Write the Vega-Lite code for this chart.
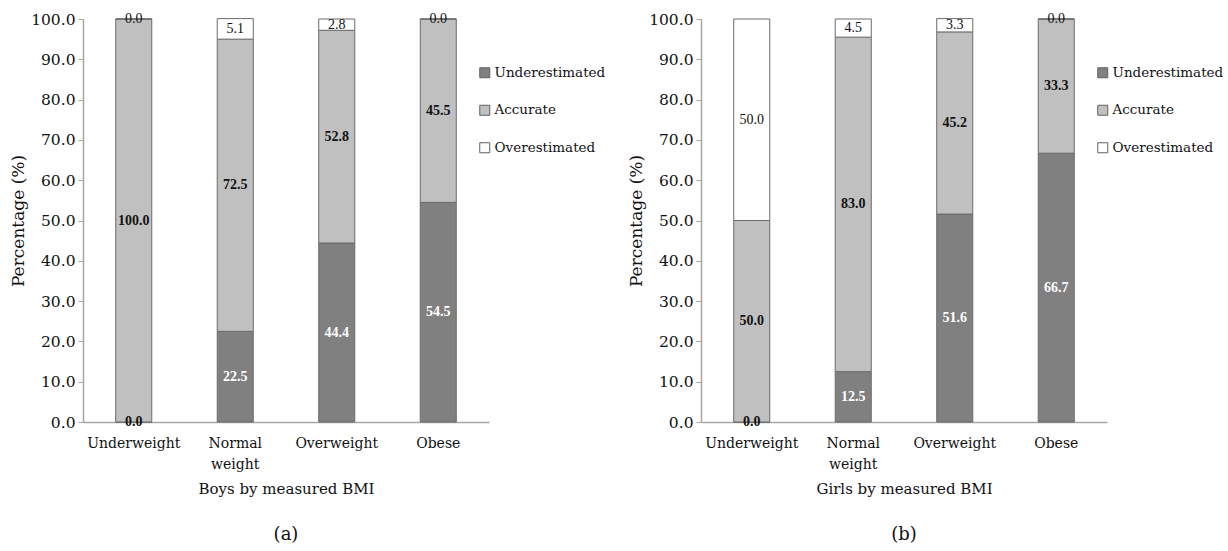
{
  "$schema": "https://vega.github.io/schema/vega-lite/v6.json",
  "background": "white",
  "padding": {"left": 9, "top": 12, "right": 5, "bottom": 5},
  "config": {
    "view": {"stroke": null},
    "font": "DejaVu Serif",
    "text": {"baseline": "middle"}
  },
  "datasets": {
    "boys": [
      {"bmi": "Underweight", "category": "Underestimated", "order": 1, "value": 0.0},
      {"bmi": "Underweight", "category": "Accurate", "order": 2, "value": 100.0},
      {"bmi": "Underweight", "category": "Overestimated", "order": 3, "value": 0.0},
      {"bmi": "Normal weight", "category": "Underestimated", "order": 1, "value": 22.5},
      {"bmi": "Normal weight", "category": "Accurate", "order": 2, "value": 72.5},
      {"bmi": "Normal weight", "category": "Overestimated", "order": 3, "value": 5.1},
      {"bmi": "Overweight", "category": "Underestimated", "order": 1, "value": 44.4},
      {"bmi": "Overweight", "category": "Accurate", "order": 2, "value": 52.8},
      {"bmi": "Overweight", "category": "Overestimated", "order": 3, "value": 2.8},
      {"bmi": "Obese", "category": "Underestimated", "order": 1, "value": 54.5},
      {"bmi": "Obese", "category": "Accurate", "order": 2, "value": 45.5},
      {"bmi": "Obese", "category": "Overestimated", "order": 3, "value": 0.0}
    ],
    "girls": [
      {"bmi": "Underweight", "category": "Underestimated", "order": 1, "value": 0.0},
      {"bmi": "Underweight", "category": "Accurate", "order": 2, "value": 50.0},
      {"bmi": "Underweight", "category": "Overestimated", "order": 3, "value": 50.0},
      {"bmi": "Normal weight", "category": "Underestimated", "order": 1, "value": 12.5},
      {"bmi": "Normal weight", "category": "Accurate", "order": 2, "value": 83.0},
      {"bmi": "Normal weight", "category": "Overestimated", "order": 3, "value": 4.5},
      {"bmi": "Overweight", "category": "Underestimated", "order": 1, "value": 51.6},
      {"bmi": "Overweight", "category": "Accurate", "order": 2, "value": 45.2},
      {"bmi": "Overweight", "category": "Overestimated", "order": 3, "value": 3.3},
      {"bmi": "Obese", "category": "Underestimated", "order": 1, "value": 66.7},
      {"bmi": "Obese", "category": "Accurate", "order": 2, "value": 33.3},
      {"bmi": "Obese", "category": "Overestimated", "order": 3, "value": 0.0}
    ]
  },
  "spacing": 212,
  "bounds": "flush",
  "resolve": {"scale": {"color": "independent"}, "legend": {"color": "independent"}},
  "hconcat": [
    {
      "width": 406,
      "height": 403,
      "data": {"name": "boys"},
      "title": {"text": "(a)", "orient": "bottom", "fontSize": 18, "fontWeight": "normal", "font": "DejaVu Serif", "color": "#111", "offset": 30},
      "transform": [{"stack": "value", "groupby": ["bmi"], "sort": [{"field": "order"}], "as": ["v0", "v1"]}],
      "encoding": {
        "x": {
          "field": "bmi", "type": "nominal",
          "sort": ["Underweight", "Normal weight", "Overweight", "Obese"],
          "scale": {"paddingInner": 0.645, "paddingOuter": 0.3225},
          "axis": {
            "title": "Boys by measured BMI", "titleFontSize": 15, "titleFontWeight": "normal", "titleColor": "#111", "titlePadding": 10,
            "labelAngle": 0, "labelFontSize": 14, "labelColor": "#111", "labelPadding": 14, "labelLineHeight": 21,
            "labelExpr": "split(datum.label, ' ')",
            "ticks": false, "domainColor": "#a6a6a6", "domainWidth": 1.5
          }
        }
      },
      "layer": [
        {
          "mark": {"type": "bar", "stroke": "#6b6b6b", "strokeWidth": 1},
          "encoding": {
            "y": {
              "field": "v0", "type": "quantitative",
              "scale": {"domain": [0, 100]},
              "axis": {
                "title": "Percentage (%)", "titleFontSize": 17, "titleFontWeight": "normal", "titleColor": "#111", "titlePadding": 3,
                "values": [0, 10, 20, 30, 40, 50, 60, 70, 80, 90, 100], "format": ".1f",
                "labelFontSize": 15.5, "labelColor": "#111", "labelPadding": 3,
                "tickSize": 5, "tickColor": "#a6a6a6", "domainColor": "#a6a6a6", "domainWidth": 1.5, "grid": false
              }
            },
            "y2": {"field": "v1"},
            "color": {
              "field": "category", "type": "nominal",
              "scale": {"domain": ["Underestimated", "Accurate", "Overestimated"], "range": ["#808080", "#c0c0c0", "#ffffff"]},
              "legend": {
                "title": null, "orient": "none", "legendX": 395, "legendY": 47,
                "symbolType": "square", "symbolSize": 100, "symbolStrokeColor": "#606060", "symbolStrokeWidth": 1,
                "labelFontSize": 13.5, "labelFont": "DejaVu Serif", "labelColor": "#111", "rowPadding": 22.5, "labelOffset": 3
              }
            }
          }
        },
        {
          "transform": [
            {"fold": ["v0", "v1"], "as": ["edge", "pos"]},
            {"aggregate": [{"op": "mean", "field": "pos", "as": "mid"}], "groupby": ["bmi", "category", "value"]},
            {"filter": "datum.category != 'Overestimated'"}
          ],
          "mark": {"type": "text", "font": "Liberation Serif", "fontSize": 14, "fontWeight": "bold"},
          "encoding": {
            "y": {"field": "mid", "type": "quantitative"},
            "text": {"field": "value", "type": "quantitative", "format": ".1f"},
            "color": {"condition": {"test": "datum.category == 'Underestimated' && datum.value > 0", "value": "#ffffff"}, "value": "#111111"}
          }
        },
        {
          "transform": [
            {"fold": ["v0", "v1"], "as": ["edge", "pos"]},
            {"aggregate": [{"op": "mean", "field": "pos", "as": "mid"}], "groupby": ["bmi", "category", "value"]},
            {"filter": "datum.category == 'Overestimated'"}
          ],
          "mark": {"type": "text", "font": "Liberation Serif", "fontSize": 14, "color": "#111111"},
          "encoding": {
            "y": {"field": "mid", "type": "quantitative"},
            "text": {"field": "value", "type": "quantitative", "format": ".1f"}
          }
        }
      ]
    },
    {
      "width": 406,
      "height": 403,
      "data": {"name": "girls"},
      "title": {"text": "(b)", "orient": "bottom", "fontSize": 18, "fontWeight": "normal", "font": "DejaVu Serif", "color": "#111", "offset": 30},
      "transform": [{"stack": "value", "groupby": ["bmi"], "sort": [{"field": "order"}], "as": ["v0", "v1"]}],
      "encoding": {
        "x": {
          "field": "bmi", "type": "nominal",
          "sort": ["Underweight", "Normal weight", "Overweight", "Obese"],
          "scale": {"paddingInner": 0.645, "paddingOuter": 0.3225},
          "axis": {
            "title": "Girls by measured BMI", "titleFontSize": 15, "titleFontWeight": "normal", "titleColor": "#111", "titlePadding": 10,
            "labelAngle": 0, "labelFontSize": 14, "labelColor": "#111", "labelPadding": 14, "labelLineHeight": 21,
            "labelExpr": "split(datum.label, ' ')",
            "ticks": false, "domainColor": "#a6a6a6", "domainWidth": 1.5
          }
        }
      },
      "layer": [
        {
          "mark": {"type": "bar", "stroke": "#6b6b6b", "strokeWidth": 1},
          "encoding": {
            "y": {
              "field": "v0", "type": "quantitative",
              "scale": {"domain": [0, 100]},
              "axis": {
                "title": "Percentage (%)", "titleFontSize": 17, "titleFontWeight": "normal", "titleColor": "#111", "titlePadding": 3,
                "values": [0, 10, 20, 30, 40, 50, 60, 70, 80, 90, 100], "format": ".1f",
                "labelFontSize": 15.5, "labelColor": "#111", "labelPadding": 3,
                "tickSize": 5, "tickColor": "#a6a6a6", "domainColor": "#a6a6a6", "domainWidth": 1.5, "grid": false
              }
            },
            "y2": {"field": "v1"},
            "color": {
              "field": "category", "type": "nominal",
              "scale": {"domain": ["Underestimated", "Accurate", "Overestimated"], "range": ["#808080", "#c0c0c0", "#ffffff"]},
              "legend": {
                "title": null, "orient": "none", "legendX": 395, "legendY": 47,
                "symbolType": "square", "symbolSize": 100, "symbolStrokeColor": "#606060", "symbolStrokeWidth": 1,
                "labelFontSize": 13.5, "labelFont": "DejaVu Serif", "labelColor": "#111", "rowPadding": 22.5, "labelOffset": 3
              }
            }
          }
        },
        {
          "transform": [
            {"fold": ["v0", "v1"], "as": ["edge", "pos"]},
            {"aggregate": [{"op": "mean", "field": "pos", "as": "mid"}], "groupby": ["bmi", "category", "value"]},
            {"filter": "datum.category != 'Overestimated'"}
          ],
          "mark": {"type": "text", "font": "Liberation Serif", "fontSize": 14, "fontWeight": "bold"},
          "encoding": {
            "y": {"field": "mid", "type": "quantitative"},
            "text": {"field": "value", "type": "quantitative", "format": ".1f"},
            "color": {"condition": {"test": "datum.category == 'Underestimated' && datum.value > 0", "value": "#ffffff"}, "value": "#111111"}
          }
        },
        {
          "transform": [
            {"fold": ["v0", "v1"], "as": ["edge", "pos"]},
            {"aggregate": [{"op": "mean", "field": "pos", "as": "mid"}], "groupby": ["bmi", "category", "value"]},
            {"filter": "datum.category == 'Overestimated'"}
          ],
          "mark": {"type": "text", "font": "Liberation Serif", "fontSize": 14, "color": "#111111"},
          "encoding": {
            "y": {"field": "mid", "type": "quantitative"},
            "text": {"field": "value", "type": "quantitative", "format": ".1f"}
          }
        }
      ]
    }
  ]
}
